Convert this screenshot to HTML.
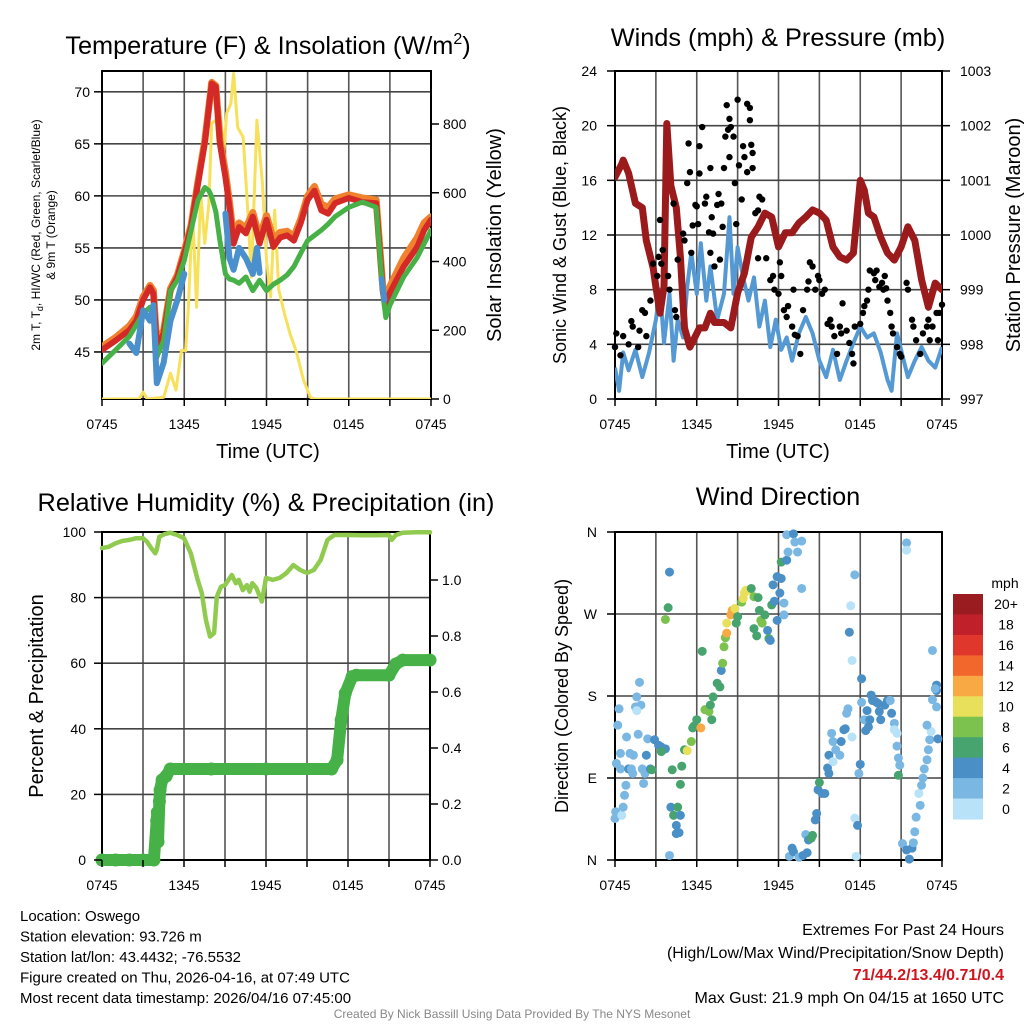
<!DOCTYPE html>
<html><head><meta charset="utf-8">
<style>
html,body{margin:0;padding:0;background:#fff;}
svg{display:block;font-family:"Liberation Sans",Arial,sans-serif;}
</style></head>
<body>
<svg id="root" width="1024" height="1024" viewBox="0 0 1024 1024" xmlns="http://www.w3.org/2000/svg"></svg>
<script>
// ---------- Panel 1: temperature ----------
const tempHours = [0,1,2,2.5,3,3.5,3.75,4,4.5,5,5.5,6,6.5,7,7.5,7.8,8,8.3,8.6,9,9.3,9.6,10,10.5,11,11.5,12,12.5,13,13.5,14,14.5,15,15.5,16,16.5,17,18,19,20,20.5,20.7,21,22,23,23.5,24];
const tempRed = [45.2,46.1,47.1,48,50,51.2,50.6,45.5,46.8,50.9,52.2,54.5,57,61.2,65.1,68.5,70.8,70.5,65,61.8,58.9,55.4,57,56.4,58,55.4,57.7,55.1,56,56.2,55.7,57.4,59.6,60.5,58.6,58.3,59.3,59.8,59.4,59.3,50.7,49,50.7,53.2,55.1,56.7,57.7];
const tempOrange = [45.5,46.4,47.5,48.4,50.3,51.4,50.9,45.8,47.1,51.1,52.4,54.7,57.2,61.4,65.3,68.6,70.9,70.6,65.4,62.3,59.4,56,57.4,56.9,58.4,56,58.1,55.8,56.5,56.6,56.1,57.8,60,60.9,59.2,58.9,59.7,60.1,59.8,59.6,51,49.3,51.3,54,56,57.4,58];
const tempGreen = [43.9,45.2,46.5,47.6,48.7,49.3,48.9,44.5,46.1,50.9,51.9,53.8,56.7,59.6,60.8,60.5,59.9,58.5,55.7,52.5,52,51.9,51.6,52.2,50.9,51.9,50.9,51.5,51.9,52.4,53.2,54.5,55.7,56.2,56.7,57.3,58,58.9,59.4,58.9,50.5,48.3,49.5,52.2,54.1,55.4,56.7];
const chillHours = [2,2.5,3,3.5,3.75,4,4.5,5,5.5,6,null,9,9.3,9.6,10,10.5,11,11.3,11.5,null,14.5,null,20.4,20.6];
const chillBlue = [45.8,44.9,49,48,49.5,42,44,48,50,52.5,null,58.3,54,52.9,55,54,52.5,55,52.6,null,54.6,null,52,50];
const solarHours = [0,2.7,3,3.3,4.5,5,5.4,5.8,6.1,6.3,6.6,6.9,7.2,7.5,7.8,8,8.3,8.6,8.9,9.1,9.4,9.6,9.9,10.3,10.6,10.9,11.3,11.7,12,12.3,12.6,12.9,13.3,13.7,14.2,14.7,15.2,15.5,24];
const solarValues = [0,0,20,0,5,75,26,142,140,267,550,267,600,453,570,802,811,840,724,831,860,947,790,761,570,355,811,628,404,297,549,317,250,192,134,55,5,0,0];
const tempTicks = [45,50,55,60,65,70];
const solarTicks = [0,200,400,600,800];
const timeLabels = ["0745","1345","1945","0145","0745"];

// ---------- Panel 2: wind & pressure ----------
const presHours = [0,0.5,0.6,1,1.5,2,2.3,2.8,3,3.3,3.5,3.6,3.8,4.1,4.5,4.8,5.1,5.5,5.8,6.2,6.6,7,7.3,8,8.5,9,9.5,10,10.5,11,11.5,12,12.5,13,13.5,14,14.5,15,15.5,16,16.5,17,17.5,17.8,18,18.3,18.6,19,19.5,20,20.5,21,21.5,22,22.5,23,23.5,24];
const presValues = [1001.06,1001.3,1001.37,1001.13,1000.58,1000.5,999.9,999.4,999.05,998.57,998.9,999.05,1002.04,1000.9,1000.5,999.6,998.3,997.95,998.1,998.3,998.3,998.57,998.4,998.4,998.3,998.94,999.3,999.96,1000.15,1000.4,1000.33,999.78,1000.04,1000.04,1000.22,1000.33,1000.46,1000.4,1000.27,999.78,999.6,999.54,999.67,1000.46,1001.0,1000.82,1000.4,1000.33,999.96,999.67,999.54,999.78,1000.15,999.9,999.18,998.68,999.12,999.0];
const windHours = [0,0.3,0.6,1,1.5,2,2.5,3,3.3,3.6,4,4.3,4.6,5,5.3,5.6,6,6.3,6.7,7,7.5,8,8.4,8.7,9,9.4,9.8,10.2,10.6,11,11.4,11.8,12.2,12.6,13,13.5,14,14.5,15,15.5,16,16.5,17,17.5,18,18.5,19,19.5,20,20.3,20.7,21,21.5,22,22.5,23,23.5,24];
const windSpeed = [2.3,0.6,3.4,2.1,3.6,1.6,3.4,5.8,8.0,4.1,7.7,2.8,5.8,4.5,8.2,10.7,7.7,11.4,7.2,9.7,5.8,7.7,13.3,7.7,11.1,8.9,7.2,8.9,5.3,7.2,3.8,5.8,3.6,4.5,2.8,4.8,6.0,4.8,2.8,1.6,3.6,1.4,2.8,4.1,5.3,4.5,4.8,3.4,1.4,0.6,4.8,3.6,1.6,2.8,3.8,2.8,2.3,3.8];
const gustHours = [0,0.1,0.4,0.6,1,1.2,1.3,1.7,1.8,2,2.2,2.3,2.6,2.8,3.1,3.2,3.3,3.4,3.5,3.9,4,4.3,4.4,4.5,4.6,5,5.1,5.3,5.4,5.5,5.6,5.7,5.9,6,6.1,6.2,6.4,6.2,6.6,6.7,6.9,7,7,7.1,7.2,7.3,7.5,7.6,7.7,7.8,7.9,8,8.1,8.2,8.3,8.4,8.5,8.4,8.7,8.8,8.9,9,9.1,9.3,9.4,9.5,9.7,9.7,9.9,9.9,10,10.1,10.1,10.3,10.5,10.6,10.8,10.5,11.1,11.4,11.6,11.7,12,12.1,12.2,12.4,12.6,12.7,13,13.1,13.2,13.4,13.6,13.8,14.1,14.2,14.3,14.5,14.7,14.9,15,15.2,15.4,15.6,15.8,15.9,16.1,16.3,16.5,16.6,16.7,17,17.2,17.4,17.5,17.6,18,18.2,18.3,18.5,18.6,18.7,19,19.1,19.2,19.4,19.6,19.7,19.8,19.9,20,20.2,20.3,20.4,20.7,20.9,21,21.4,21.5,21.8,21.9,22.1,22.4,22.6,22.9,23,23.1,23.3,23.6,23.7,23.8,24];
const gustSpeed = [3.8,4.8,3.2,4.6,4,5.7,5.3,3.8,5,6.5,6.3,4.6,7.2,9.9,9,10.4,13.1,9.9,10.9,9,8,14.3,6.5,6,10.2,12.1,11.6,15.8,18.7,16.6,10.7,12.7,14.2,14.1,12.8,18.5,19.9,16.5,14.3,14.8,12.2,10.7,16.9,13.3,12.1,9.7,14.2,15,10.2,14.3,12.6,16.9,19.2,21.5,19.7,20.5,19.9,17.7,19.2,15.8,12.8,21.9,17.1,14.6,18.5,17.7,16.6,21.6,21.3,20.4,18.6,18,16.9,13.6,13.8,14.8,14.6,10.3,10.3,8.7,9,8,7.7,10,9,6.5,6,6.8,5.3,8,4.7,4.6,3.3,6.5,8,8.6,10,9.7,8,9,8.7,7.7,8,5.5,5.8,5.3,4.6,3.3,5.3,4.8,7,5,4.1,3.3,2.6,5.3,5.5,6.3,6.8,7.2,8,9.4,9.2,8.7,9.4,8.2,8.5,8,9,8.1,7.2,6.3,5.3,4.8,3.8,3.3,3.1,8.5,8,5.8,5.3,4.3,3.3,4.8,5.3,5.8,4.3,5.3,6.3,4.3,6.3,6.9];
const windTicks = [0,4,8,12,16,20,24];
const presTicks = [997,998,999,1000,1001,1002,1003];

// ---------- Panel 3: humidity & precipitation ----------
const rhHours = [0,0.5,1,1.5,2,2.5,3,3.3,3.6,3.9,4,4.2,4.6,5,5.5,6,6.5,7,7.3,7.6,7.9,8.2,8.4,8.7,9,9.5,9.8,10,10.3,10.6,10.8,11,11.3,11.7,12,12.5,13,13.5,14,14.5,15,15.5,16,16.5,17,18,19,20,21,21.2,21.5,22,23,24];
const rhValues = [95.1,95.5,96.6,97.3,97.6,98.1,98.1,97,95.1,93.5,94.5,98.6,99.4,99.8,99.1,98.1,93.5,85.4,81.4,73.2,68.1,69.2,80.2,83.3,83.8,86.9,84.4,85.4,82.3,83.8,81.8,84.4,82.9,78.8,86,85.4,86,87.5,89.9,88.4,87.5,88.4,91.5,97.6,99.1,99.1,99,99,99.1,97.6,99.1,99.8,99.9,99.9];
const precipHours = [0,1,2,3,3.8,4.0,4.05,4.1,4.2,4.25,4.4,4.7,5,8,12,16.8,17.2,17.5,17.8,18.3,18.6,21,21.5,22,24];
const precipValues = [0,0,0,0,0,0.14,0.17,0.065,0.21,0.25,0.286,0.30,0.325,0.325,0.325,0.325,0.357,0.5,0.595,0.655,0.66,0.66,0.70,0.714,0.714];
const pctTicks = [0,20,40,60,80,100];
const precipTicks = ["0.0","0.2","0.4","0.6","0.8","1.0"];

// ---------- Panel 4: wind direction ----------
const dirHours = [0,0.05,0.5,0.6,0.7,0.8,0.1,0.4,1,1.2,1.3,0.4,1.1,1.35,0.85,0.2,0.3,1.5,1.9,1.6,1.8,1.6,1.7,2,2.2,2.1,2.4,2.3,2.6,2.7,2.9,3.2,3.4,3.7,3.4,4,3.9,3.7,4.2,4.1,4.6,4.3,4.8,4.5,4.5,4.7,4,4.8,4.9,5.1,5.3,5.6,5.7,5.8,6,6.3,6.6,6.9,7,7.1,7.2,7.5,7.7,7.8,7.9,6.4,8,8.1,8.2,8.2,8.5,8.6,8.8,8.9,9,9.3,9.4,9.5,9.6,9.8,10,10.2,10.2,10.4,10.5,10.6,10.7,10.8,11,11.2,11.3,11.4,11.5,11.7,11.6,11.9,11.9,12.1,12.2,12.2,12.4,12.4,12.6,12.7,12.6,13.1,13.2,13.4,13.7,13.7,12.8,13,13.1,13.5,13.8,14.1,14,14.2,14.4,14.5,14.7,14.8,14.9,15.2,15.4,15,15.6,15.7,15.7,15.9,16,16,16.2,16.5,16.6,16.8,16.9,17,17.1,17.4,17.2,17.4,17.3,17.6,17.9,18,17.6,17.8,17.7,18.1,18.1,18.3,18.4,18.5,18.6,18.7,18.8,18.9,19.1,19.3,19.4,19.5,19.8,20,20.3,20.2,20.5,20.5,20.7,20.7,20.8,20.9,20.8,21.4,21.4,21.1,21.4,21.6,21.8,21.9,22,22.1,22.4,22.3,22.5,22.6,22.7,22.9,23,23.1,23.2,22.9,23.7,23.3,23.6,23.6,23.6,23.3,23.5];
const dirDegrees = [45.6,53,49,58,71,82,106,100,100,100,95,117,117,115,135,148,166,168,170,179,195,164,138,100,95,84,133,115,100,99,132,126,124,122,119,316,277,264,99,58,58,49,49,38,29,30,5,83,103,121,120,130,145,147,154,145,165,163,170,154,179,194,190,208,216,229,234,244,249,260,269,274,276,260,267,283,287,293,296,296,298,289,254,246,288,274,263,260,269,252,243,241,280,284,302,311,263,293,309,327,282,269,329,338,357,358,349,338,350,298,4,13,9,3,5,8,28,22,24,27,44,51,77,73,73,85,101,95,115,139,108,130,121,115,130,143,144,161,166,135,250,219,279,313,95,105,46,38,4,199,173,154,142,164,146,154,181,175,174,172,163,154,170,175,161,175,150,143,139,125,112,104,93,348,340,18,11,1,13,19,31,47,60,73,82,90,100,110,121,132,141,148,133,176,192,186,168,230,188];
const dirSpeeds = [3,3,1,3,3,3,3,3,5,3,3,3,3,3,3,3,3,3,3,3,3,1,3,3,3,3,3,5,5,7,5,5,5,5,7,5,7,9,7,5,7,7,5,5,5,5,3,7,7,7,11,9,7,7,7,13,9,9,7,7,7,7,7,5,9,7,9,9,13,11,13,13,11,7,7,9,11,11,11,11,7,9,7,7,7,7,9,9,7,5,7,5,7,5,5,5,5,5,5,7,3,3,5,3,3,5,3,3,3,3,3,5,5,3,5,5,3,5,7,7,5,5,5,5,5,7,5,5,5,3,1,3,3,3,5,5,5,3,3,1,5,1,1,3,3,5,1,5,1,5,3,3,5,5,5,5,5,5,5,5,5,5,5,5,5,3,3,1,1,3,3,3,7,3,1,3,5,5,5,3,3,3,3,1,3,3,3,3,3,3,1,3,5,3,5,5,3,3,3];
const dirLabels = ["N","E","S","W","N"];
const speedBins = ["20+","18","16","14","12","10","8","6","4","2","0"];
const speedColors = ["#9b1c20","#c0202a","#e0372c","#f2672c","#f8a944","#e8e05a","#7bc24e","#47a46e","#4a8fc6","#7ab8e3","#b7e2f7"];

// ---------- helpers ----------
const NS = "http://www.w3.org/2000/svg";
const root = document.getElementById("root");
function mk(tag, attrs, parent, txt) {
  const e = document.createElementNS(NS, tag);
  for (const k in attrs) e.setAttribute(k, attrs[k]);
  if (txt !== undefined) e.textContent = txt;
  (parent || root).appendChild(e);
  return e;
}
function lin(d0, d1, r0, r1) { return v => r0 + (v - d0) * (r1 - r0) / (d1 - d0); }
function pathFrom(xs, ys, fx, fy) {
  let d = "", pen = false;
  for (let i = 0; i < xs.length; i++) {
    if (xs[i] === null || ys[i] === null) { pen = false; continue; }
    d += (pen ? "L" : "M") + fx(xs[i]).toFixed(1) + "," + fy(ys[i]).toFixed(1);
    pen = true;
  }
  return d;
}
function grid(g, L, R, T, B, nx, ys) {
  for (let i = 0; i <= nx; i++) {
    const x = L + (R - L) * i / nx;
    const ln = mk("line", {x1:x, x2:x, y1:T, y2:B, stroke:"#555", "stroke-width":1.6}, g);
    
    
  }
  ys.forEach(y => {
    const ln = mk("line", {x1:L, x2:R, y1:y, y2:y, stroke:"#444", "stroke-width":1.6}, g);
    
    
  });
  const fr = mk("rect", {x:L, y:T, width:R-L, height:B-T, fill:"none", stroke:"#000", "stroke-width":2}, g);
  
  
}
function text(g, x, y, s, size, anchor, extra) {
  const a = Object.assign({x:x, y:y, "font-size":size, "text-anchor":anchor||"middle", fill:"#000"}, extra||{});
  return mk("text", a, g, s);
}
function xTicks(g, L, R, B) {
  timeLabels.forEach((s, i) => {
    const x = L + (R - L) * i / 4;
    const t = text(g, x, B + 30, s, 14);
    
    
  });
  for (let i = 0; i <= 8; i++) {
    const x = L + (R - L) * i / 8;
    const tk = mk("line", {x1:x, x2:x, y1:B, y2:B + 7, stroke:"#000", "stroke-width":1.5}, g);
    
    
  }
}

// ================= Panel 1 =================
(function(){
  const L=102,R=431,T=71,B=399;
  const g = mk("g", {});
  
  
  const fx = lin(0,24,L,R), fy = lin(72,40.48,T,B), fs = lin(0,800,B,124);
  grid(g,L,R,T,B,8,tempTicks.map(fy));
  const cp = mk("clipPath",{id:"c1"},g); mk("rect",{x:L,y:T,width:R-L,height:B-T},cp);
  const pg = mk("g",{"clip-path":"url(#c1)"},g);
  const ys = mk("path",{d:pathFrom(solarHours,solarValues,fx,fs),fill:"none",stroke:"#f7e05a","stroke-width":3,"stroke-linejoin":"round"},pg);
  
  
  const og = mk("path",{d:pathFrom(tempHours,tempOrange,fx,fy),fill:"none",stroke:"#f0822e","stroke-width":7,"stroke-linejoin":"round","stroke-linecap":"round"},pg);
  
  
  const rd = mk("path",{d:pathFrom(tempHours,tempRed,fx,fy),fill:"none",stroke:"#d42a27","stroke-width":6,"stroke-linejoin":"round","stroke-linecap":"round"},pg);
  
  
  const gr = mk("path",{d:pathFrom(tempHours,tempGreen,fx,fy),fill:"none",stroke:"#46b146","stroke-width":5,"stroke-linejoin":"round","stroke-linecap":"round"},pg);
  
  
  const bl = mk("path",{d:pathFrom(chillHours,chillBlue,fx,fy),fill:"none",stroke:"#4a90cc","stroke-width":6,"stroke-linejoin":"round","stroke-linecap":"round"},pg);
  
  
  tempTicks.forEach(v => {
    const t = text(g, L-12, fy(v)+5, String(v), 14, "end");
    
    
    mk("line",{x1:L-8,x2:L,y1:fy(v),y2:fy(v),stroke:"#000","stroke-width":1.5},g);
  });
  solarTicks.forEach(v => {
    const t = text(g, R+12, fs(v)+5, String(v), 14, "start");
    
    
    mk("line",{x1:R,x2:R+8,y1:fs(v),y2:fs(v),stroke:"#000","stroke-width":1.5},g);
  });
  xTicks(g,L,R,B);
  const ti = text(g, 268, 54, "Temperature (F) & Insolation (W/m", 25.3);
  mk("tspan",{dy:-10,"font-size":16},ti,"2");
  mk("tspan",{dy:10},ti,")");
  
  
  const xt = text(g, 268, 458, "Time (UTC)", 20);
  
  
  const yl = mk("text",{transform:"translate(40,235) rotate(-90)","font-size":12,"text-anchor":"middle"},g);
  mk("tspan",{},yl,"2m T, T");
  mk("tspan",{dy:3,"font-size":9},yl,"d");
  mk("tspan",{dy:-3},yl,", HI/WC (Red, Green, Scarlet/Blue)");
  
  
  const yl2 = mk("text",{transform:"translate(55,235) rotate(-90)","font-size":12,"text-anchor":"middle"},g,"& 9m T (Orange)");
  
  
  const yr = mk("text",{transform:"translate(501,235) rotate(-90)","font-size":20,"text-anchor":"middle"},g,"Solar Insolation (Yellow)");
  
  
})();

// ================= Panel 2 =================
(function(){
  const L=615,R=942,T=71,B=399;
  const g = mk("g", {});
  
  
  const fx = lin(0,24,L,R), fy = lin(0,24,B,T), fp = lin(997,1003,B,T);
  grid(g,L,R,T,B,8,windTicks.map(fy));
  const cp = mk("clipPath",{id:"c2"},g); mk("rect",{x:L,y:T,width:R-L,height:B-T},cp);
  const pg = mk("g",{"clip-path":"url(#c2)"},g);
  const ws = mk("path",{d:pathFrom(windHours,windSpeed,fx,fy),fill:"none",stroke:"#5499d3","stroke-width":4,"stroke-linejoin":"round"},pg);
  
  
  const pr = mk("path",{d:pathFrom(presHours,presValues,fx,fp),fill:"none",stroke:"#9b1a1c","stroke-width":7,"stroke-linejoin":"round","stroke-linecap":"round"},pg);
  
  
  gustHours.forEach((h,i) => {
    const c = mk("circle",{cx:fx(h),cy:fy(gustSpeed[i]),r:3.2,fill:"#000"},g);
    
    
  });
  windTicks.forEach(v => {
    const t = text(g, L-18, fy(v)+5, String(v), 14, "end");
    
    
    mk("line",{x1:L-8,x2:L,y1:fy(v),y2:fy(v),stroke:"#000","stroke-width":1.5},g);
  });
  presTicks.forEach(v => {
    const t = text(g, R+18, fp(v)+5, String(v), 14, "start");
    
    
    mk("line",{x1:R,x2:R+8,y1:fp(v),y2:fp(v),stroke:"#000","stroke-width":1.5},g);
  });
  xTicks(g,L,R,B);
  const ti = text(g, 778, 46, "Winds (mph) & Pressure (mb)", 25.3);
  
  
  const xt = text(g, 778, 458, "Time (UTC)", 20);
  
  
  const yl = mk("text",{transform:"translate(566,235) rotate(-90)","font-size":18,"text-anchor":"middle"},g,"Sonic Wind & Gust (Blue, Black)");
  
  
  const yr = mk("text",{transform:"translate(1020,235) rotate(-90)","font-size":20,"text-anchor":"middle"},g,"Station Pressure (Maroon)");
  
  
})();

// ================= Panel 3 =================
(function(){
  const L=102,R=430,T=532,B=860;
  const g = mk("g", {});
  
  
  const fx = lin(0,24,L,R), fy = lin(0,100,B,T), fp = lin(0,1,B,580);
  grid(g,L,R,T,B,8,pctTicks.map(fy));
  const pl = mk("path",{d:pathFrom(precipHours,precipValues,fx,fp),fill:"none",stroke:"#46b146","stroke-width":12,"stroke-linejoin":"round","stroke-linecap":"round"},g);
  
  
  precipHours.forEach((h,i) => {
    const c = mk("circle",{cx:fx(h),cy:fp(precipValues[i]),r:6.5,fill:"#46b146"},g);
    
    
  });
  const rh = mk("path",{d:pathFrom(rhHours,rhValues,fx,fy),fill:"none",stroke:"#90cb50","stroke-width":4.5,"stroke-linejoin":"round","stroke-linecap":"round"},g);
  
  
  pctTicks.forEach(v => {
    const t = text(g, L-16, fy(v)+5, String(v), 14, "end");
    
    
    mk("line",{x1:L-8,x2:L,y1:fy(v),y2:fy(v),stroke:"#000","stroke-width":1.5},g);
  });
  precipTicks.forEach(s => {
    const v = parseFloat(s);
    const t = text(g, R+12, fp(v)+5, s, 14, "start");
    
    
    mk("line",{x1:R,x2:R+8,y1:fp(v),y2:fp(v),stroke:"#000","stroke-width":1.5},g);
  });
  xTicks(g,L,R,B);
  const ti = text(g, 266, 511, "Relative Humidity (%) & Precipitation (in)", 25.3);
  
  
  const yl = mk("text",{transform:"translate(43,696) rotate(-90)","font-size":20,"text-anchor":"middle"},g,"Percent & Precipitation");
  
  
})();

// ================= Panel 4 =================
(function(){
  const L=615,R=942,T=532,B=860;
  const g = mk("g", {});
  
  
  const fx = lin(0,24,L,R), fy = lin(0,360,B,T);
  grid(g,L,R,T,B,8,[0,90,180,270,360].map(fy));
  function colorFor(s){
    if (typeof s !== "number" || isNaN(s)) return speedColors[9];
    const idx = Math.min(10, Math.floor(s/2)); return speedColors[10-idx];
  }
  dirHours.forEach((h,i) => {
    const c = mk("circle",{cx:fx(h),cy:fy(dirDegrees[i]),r:4.5,fill:colorFor(dirSpeeds[i])},g);
    
    
  });
  dirLabels.forEach((s,i) => {
    const y = fy(i*90);
    const t = text(g, L-18, y+5, s, 14, "end");
    
    
    mk("line",{x1:L-8,x2:L,y1:y,y2:y,stroke:"#000","stroke-width":1.5},g);
  });
  xTicks(g,L,R,B);
  const ti = text(g, 778, 505, "Wind Direction", 25.3);
  
  
  const yl = mk("text",{transform:"translate(568,696) rotate(-90)","font-size":18,"text-anchor":"middle"},g,"Direction (Colored By Speed)");
  
  
  const lg = mk("g",{},g);
  
  
  const mt = text(lg, 1005, 588, "mph", 14);
  
  
  const bh = 225/11;
  speedBins.forEach((s,i) => {
    const r = mk("rect",{x:953,y:594+i*bh,width:30,height:bh+0.5,fill:speedColors[i]},lg);
    
    
    const t = text(lg, 1006, 594+i*bh+bh/2+5, s, 14);
    
    
  });
})();

// ================= Footer text =================
(function(){
  const g = mk("g",{});
  
  
  const lines = ["Location: Oswego","Station elevation: 93.726 m","Station lat/lon: 43.4432; -76.5532","Figure created on Thu, 2026-04-16, at 07:49 UTC","Most recent data timestamp: 2026/04/16 07:45:00"];
  lines.forEach((s,i) => {
    const t = text(g, 20, 921+i*20.5, s, 15, "start");
    
    
  });
  const g2 = mk("g",{});
  
  
  const e1 = text(g2, 1004, 935, "Extremes For Past 24 Hours", 16, "end");
  
  
  const e2 = text(g2, 1004, 958, "(High/Low/Max Wind/Precipitation/Snow Depth)", 16, "end");
  
  
  const e3 = text(g2, 1004, 980, "71/44.2/13.4/0.71/0.4", 16, "end", {fill:"#d0161e","font-weight":"bold"});
  
  
  const e4 = text(g2, 1004, 1003, "Max Gust: 21.9 mph On 04/15 at 1650 UTC", 16, "end");
  
  
  const cr = text(root, 512, 1018, "Created By Nick Bassill Using Data Provided By The NYS Mesonet", 12, "middle", {fill:"#888"});
  
  
})();
</script>
</body></html>
